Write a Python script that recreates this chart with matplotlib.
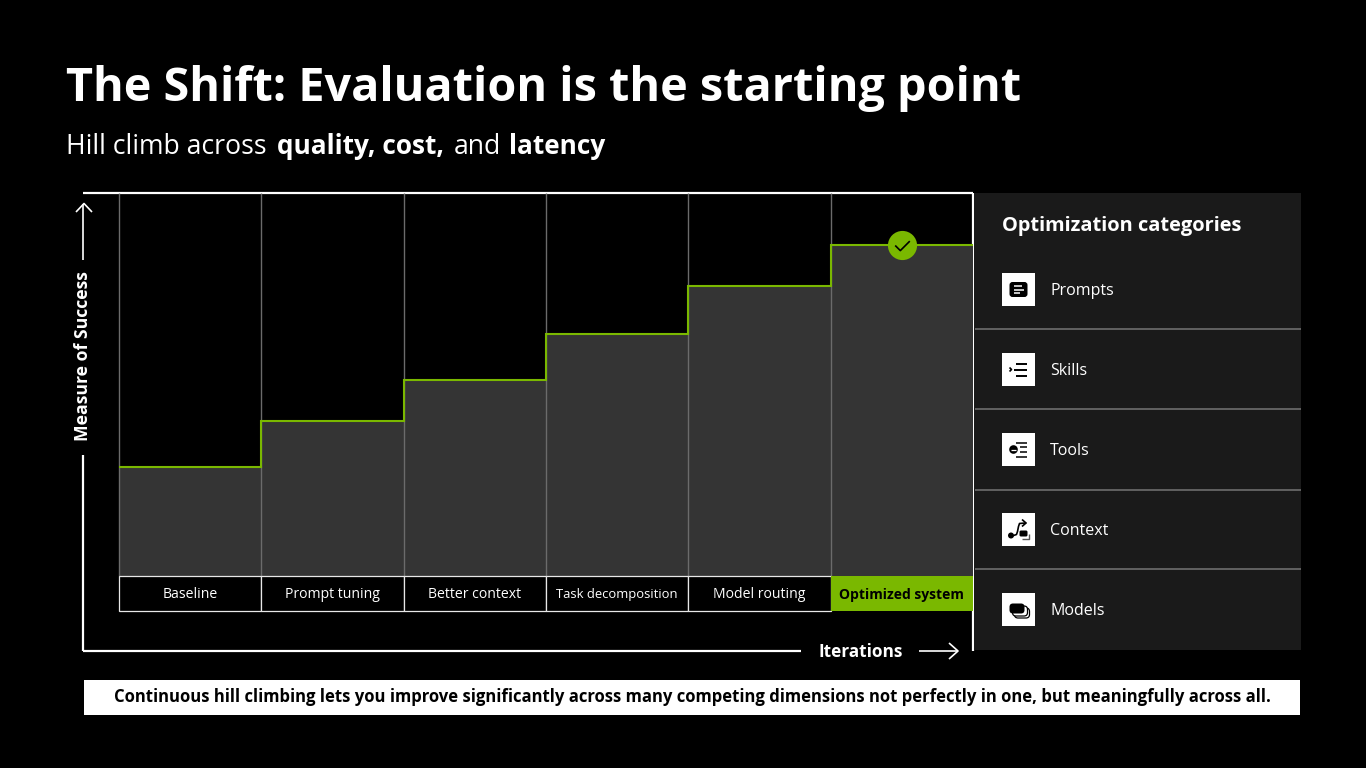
import numpy as np
import matplotlib
matplotlib.use("Agg")
import matplotlib.pyplot as plt
from matplotlib.patches import Rectangle, Circle, FancyBboxPatch
from matplotlib.path import Path

plt.rcParams['font.family'] = ['Open Sans', 'DejaVu Sans']

# chart values
stages = ['Baseline', 'Prompt tuning', 'Better context', 'Task decomposition',
          'Model routing', 'Optimized system']
scores = [109, 155, 196, 242, 290, 331]
categories = ['Prompts', 'Skills', 'Tools', 'Context', 'Models']

GREEN = '#7ab800'
FILL = '#343434'
GRID = '#6b6b6b'
PANEL = '#1a1a1a'
W, H = 1366, 768

fig = plt.figure(figsize=(W / 100, H / 100), dpi=100, facecolor='black')

# full slide axes in pixel units, y pointing down
px = fig.add_axes([0, 0, 1, 1])
px.set_xlim(0, W)
px.set_ylim(H, 0)
px.axis('off')


def line(xs, ys, color='white', lw=1.6, **kw):
    px.plot(xs, ys, color=color, lw=lw, solid_capstyle='butt', **kw)


def box(x0, y0, x1, y1, color, **kw):
    px.add_patch(Rectangle((x0, y0), x1 - x0, y1 - y0, fc=color, ec='none', **kw))


# headings
px.text(66, 100.5, 'The Shift: Evaluation is the starting point', color='white',
        fontsize=33.7, fontweight='bold', va='baseline')
sub_y = 154
px.text(66, sub_y, 'Hill climb across', color='white', fontsize=19.2, va='baseline')
px.text(277, sub_y, 'quality, cost,', color='white', fontsize=18.9, fontweight='bold', va='baseline')
px.text(454, sub_y, 'and', color='white', fontsize=19.2, va='baseline')
px.text(509, sub_y, 'latency', color='white', fontsize=18.9, fontweight='bold', va='baseline')

# step chart, the label row sits under zero
left, right, top, bottom = 119, 973, 193, 611
row = 35
ymax = bottom - row - top
ax = fig.add_axes([left / W, 1 - bottom / H, (right - left) / W, (bottom - top) / H])
ax.patch.set_alpha(0)
ax.axis('off')
n = len(stages)
edges = np.arange(n + 1) - 0.5
ax.set_xlim(edges[0], edges[-1])
ax.set_ylim(-row, ymax)

ax.bar(range(n), scores, width=1, color=FILL, zorder=1)
ax.vlines(edges[:-1], 0, ymax, color=GRID, lw=1.0, zorder=2, clip_on=False)
ax.stairs(scores, edges, baseline=None, color=GREEN, lw=1.5, zorder=3)

label_sizes = [10.1, 10.1, 10.1, 9.4, 10.1, 10.0]
for i, name in enumerate(stages):
    last = i == n - 1
    ax.add_patch(Rectangle((i - 0.5, -row), 1, row, fc=GREEN if last else 'black',
                           ec='none' if last else '#e8e8e8', lw=0.9, zorder=4, clip_on=False))
    ax.text(i, -row / 2 + 0.5, name, ha='center', va='center_baseline', zorder=5,
            color='black' if last else 'white', fontsize=label_sizes[i],
            fontweight='bold' if last else 'normal')

# badge on the final step
check = Path([(-1, 0), (-0.3, -0.7), (1, 0.6)], [Path.MOVETO, Path.LINETO, Path.LINETO])
ax.plot([n - 1], [scores[-1]], 'o', ms=21, color=GREEN, mec='none', zorder=6, clip_on=False)
ax.plot([n - 1], [scores[-1]], marker=check, ms=10.5, mfc='none', mec='black', mew=1.2,
        ls='none', zorder=7)

# outer frame and axis arrows
line([83, 973], [193, 193])
line([973, 973], [193, 651])
line([83, 801], [651, 651])
line([83, 83], [455, 651])
line([83, 83], [260, 204], lw=1.2)
line([76, 84, 92], [212, 203.5, 212], lw=1.2)
line([919, 958], [651, 651], lw=1.2)
line([949, 958, 949], [643, 651, 659], lw=1.2)
px.text(83, 356, 'Measure of Success', color='white', fontsize=12.7, fontweight='bold',
        rotation=90, ha='center', va='center')
px.text(861, 652, 'Iterations', color='white', fontsize=12.4, fontweight='bold',
        ha='center', va='center')

# takeaway banner
box(84, 680, 1300, 715, 'white')
px.text(692, 697, 'Continuous hill climbing lets you improve significantly across many '
        'competing dimensions not perfectly in one, but meaningfully across all.',
        color='black', fontsize=12, fontweight='bold', ha='center', va='center')

# side panel
box(975, 193, 1301, 650, PANEL)
px.text(1002.5, 231.5, 'Optimization categories', color='white', fontsize=14.4,
        fontweight='bold', va='baseline')
for y in [329, 409, 490, 569]:
    line([975, 1301], [y, y], color='#6e6e6e', lw=1.2)


def prompts_icon(cx, cy):
    px.add_patch(FancyBboxPatch((cx - 9, cy - 7.5), 18, 15, boxstyle='round,pad=0,rounding_size=3',
                                fc='black', ec='none'))
    for dy, w in [(-3.5, 8), (0, 10), (3.5, 6)]:
        line([cx - 5, cx - 5 + w], [cy + dy, cy + dy], lw=1.1)


def skills_icon(cx, cy):
    line([cx - 9, cx - 7, cx - 9], [cy - 2, cy, cy + 2], color='black', lw=1.2)
    for dy, x0 in [(-6, -2.5), (0, -4.5), (6, -2.5)]:
        line([cx + x0, cx + 8.5], [cy + dy, cy + dy], color='black', lw=1.4)


def tools_icon(cx, cy):
    px.add_patch(Circle((cx - 5, cy), 4.3, fc='black', ec='none'))
    line([cx - 7.5, cx - 2.5], [cy, cy], lw=0.9)
    for dy, x0 in [(-7, -3), (-2.5, 1), (2.5, 1), (7, -3)]:
        line([cx + x0, cx + 8], [cy + dy, cy + dy], color='black', lw=1.1)


def context_icon(cx, cy):
    px.add_patch(Circle((cx - 7.5, cy + 6), 3, fc='black', ec='none'))
    px.plot([cx - 5, cx - 2, cx - 1, cx, cx + 1, cx + 7], [cy + 6, cy + 5, cy + 2, cy - 3, cy - 6, cy - 6.5],
            color='black', lw=1.2)
    line([cx + 3.5, cx + 7.5, cx + 3.5], [cy - 10, cy - 6.5, cy - 3], color='black', lw=1.2)
    px.add_patch(FancyBboxPatch((cx + 1, cy + 1), 8, 6, boxstyle='round,pad=0,rounding_size=1.5',
                                fc='black', ec='none'))
    line([cx + 3, cx + 10, cx + 10], [cy + 9.5, cy + 9.5, cy + 4], color='#555555', lw=1.0)


def models_icon(cx, cy):
    for off in [4, 2]:
        px.add_patch(FancyBboxPatch((cx - 8 + off, cy - 5.5 + off), 15, 10,
                                    boxstyle='round,pad=0,rounding_size=3.5',
                                    fc='white', ec='black', lw=0.9))
    px.add_patch(FancyBboxPatch((cx - 9, cy - 6), 15, 10, boxstyle='round,pad=0,rounding_size=3.5',
                                fc='black', ec='none'))


icons = [prompts_icon, skills_icon, tools_icon, context_icon, models_icon]
icon_tops = [273, 353, 433, 513, 593]
for name, draw, y0 in zip(categories, icons, icon_tops):
    box(1002, y0, 1035, y0 + 33, 'white')
    draw(1018.5, y0 + 16.5)
    px.text(1050, y0 + 22, name, color='white', fontsize=11.5, va='baseline')

fig.savefig('out.png', dpi=100, facecolor='black')
